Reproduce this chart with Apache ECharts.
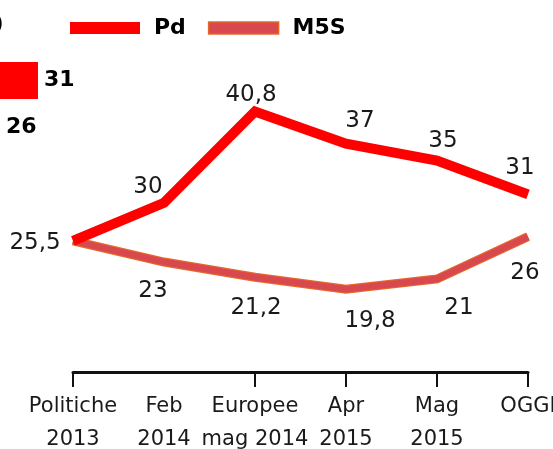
<!doctype html>
<html lang="it">
  <head>
    <meta charset="UTF-8" />
    <title>Pd M5S sondaggi</title>
    <script src="https://fastly.jsdelivr.net/npm/echarts@6/dist/echarts.min.js"></script>
    <style type="text/css">
      * {
        margin: 0;
        padding: 0;
      }
      html,
      body,
      #chart {
        width: 553px;
        height: 449px;
        overflow: hidden;
        background: #fff;
      }
    </style>
  </head>
  <body>
    <div id="chart"></div>
    <script>
      // categories on the x axis (two lines each)
      const categories = [
        'Politiche\n2013',
        'Feb\n2014',
        'Europee\nmag 2014',
        'Apr\n2015',
        'Mag\n2015',
        'OGGI',
      ];
      const pdValues = [25.5, 30, 40.8, 37, 35, 31];
      const m5sValues = [25.5, 23, 21.2, 19.8, 21, 26];
      // the cut-off bars on the left (today's values)
      const barNames = ['Pd', 'M5S'];
      const barValues = [31, 26];

      // label placement, kept apart from the data
      const pdLabelOffset = [[-38, 2], [-16, -16], [-4, -16], [14, -23], [6, -20], [-8, -26]];
      const m5sLabelOffset = [null, [-11, 29], [1, 31], [24, 32], [22, 29], [-3, 36]];

      const RED = '#ff0000';
      const PINK = '#d9474f';
      const EDGE = '#e2692a';
      const FONT = 'DejaVu Sans';

      const fmt = (v) => String(v).replace('.', ',');

      function withLabels(values, offsets) {
        return values.map((v, i) => ({
          value: v,
          label: offsets[i] ? { show: true, offset: offsets[i] } : { show: false },
        }));
      }

      const labelBase = {
        show: true,
        position: 'inside',
        align: 'center',
        verticalAlign: 'middle',
        color: '#1a1a1a',
        fontFamily: FONT,
        fontSize: 23,
        formatter: (p) => fmt(p.value),
      };

      const chart = echarts.init(document.getElementById('chart'), null, { renderer: 'canvas' });
      chart.setOption({
        animation: false,
        backgroundColor: '#fff',
        legend: {
          left: 70,
          top: 17,
          padding: 0,
          icon: 'rect',
          itemWidth: 70,
          itemHeight: 12,
          itemGap: 22,
          selectedMode: false,
          textStyle: {
            fontFamily: FONT,
            fontWeight: 'bold',
            fontSize: 22,
            color: '#000',
            padding: [0, 0, 0, 9],
          },
          data: [
            { name: 'Pd', itemStyle: { color: RED, borderWidth: 0 } },
            { name: 'M5S', itemStyle: { color: PINK, borderColor: EDGE, borderWidth: 1.5 } },
          ],
        },
        graphic: [
          {
            type: 'text',
            left: -5,
            top: 13,
            style: { text: ')', font: '22px "DejaVu Sans"', fill: '#000' },
          },
        ],
        grid: [
          { left: 73, right: 25, top: 76, bottom: 77, outerBoundsMode: 'none' },
          { left: 0, width: 38, top: 57, height: 94, outerBoundsMode: 'none' },
        ],
        xAxis: [
          {
            type: 'category',
            gridIndex: 0,
            data: categories,
            boundaryGap: false,
            axisLine: { lineStyle: { color: '#111', width: 3 } },
            axisTick: {
              length: 15,
              interval: (i) => i !== 1,
              lineStyle: { color: '#111', width: 2 },
            },
            axisLabel: {
              margin: 18,
              color: '#1a1a1a',
              fontFamily: FONT,
              fontSize: 21,
              lineHeight: 33,
              interval: 0,
            },
            splitLine: { show: false },
          },
          {
            // only the tips of the bars are in view
            type: 'value',
            gridIndex: 1,
            min: 26,
            max: 31,
            show: false,
          },
        ],
        yAxis: [
          { type: 'value', gridIndex: 0, min: 10, max: 45, show: false },
          { type: 'category', gridIndex: 1, data: barNames, inverse: true, show: false },
        ],
        series: [
          {
            name: 'M5S',
            type: 'line',
            z: 2,
            data: m5sValues,
            symbol: 'none',
            silent: true,
            lineStyle: { color: EDGE, width: 9, join: 'miter', cap: 'butt' },
          },
          {
            name: 'M5S',
            type: 'line',
            z: 3,
            data: withLabels(m5sValues, m5sLabelOffset),
            symbol: 'circle',
            symbolSize: 0.01,
            showSymbol: true,
            itemStyle: { color: PINK },
            lineStyle: { color: PINK, width: 6.5, join: 'miter', cap: 'butt' },
            label: labelBase,
          },
          {
            name: 'Pd',
            type: 'line',
            z: 4,
            data: withLabels(pdValues, pdLabelOffset),
            symbol: 'circle',
            symbolSize: 0.01,
            showSymbol: true,
            itemStyle: { color: RED },
            lineStyle: { color: RED, width: 10, join: 'miter', cap: 'butt' },
            label: labelBase,
          },
          {
            name: 'oggi',
            type: 'bar',
            xAxisIndex: 1,
            yAxisIndex: 1,
            barWidth: 37,
            data: barValues.map((v, i) => ({
              value: v,
              itemStyle: { color: i === 0 ? RED : PINK },
            })),
            label: {
              show: true,
              position: 'right',
              distance: 6,
              color: '#000',
              fontFamily: FONT,
              fontWeight: 'bold',
              fontSize: 22,
            },
          },
        ],
      });
    </script>
  </body>
</html>
